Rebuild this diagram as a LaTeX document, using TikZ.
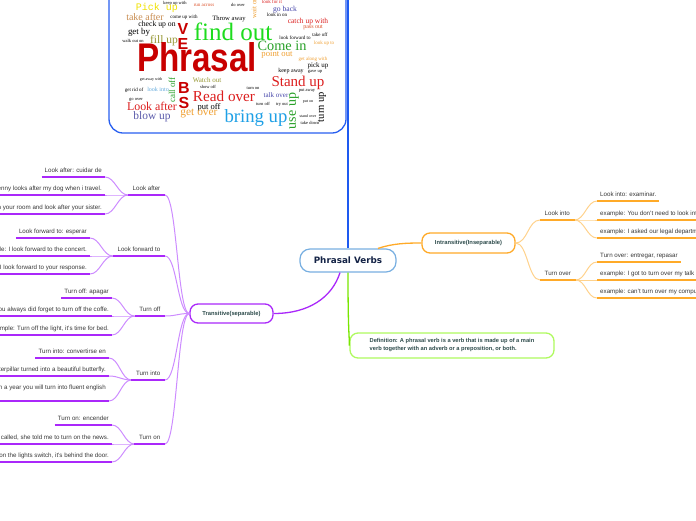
\documentclass[tikz,border=0pt]{standalone}
\usepackage{fontspec}
\setmainfont{Liberation Sans}
\newfontfamily\cloudserif{Liberation Serif}
\newfontfamily\cloudmono{Liberation Mono}
\newfontfamily\rootfont{DejaVu Sans}

\definecolor{transpurple}{RGB}{170,40,250}
\definecolor{translink}{RGB}{205,140,255}
\definecolor{introrange}{RGB}{255,170,40}
\definecolor{intrlink}{RGB}{255,210,140}
\definecolor{deflime}{RGB}{175,250,95}
\definecolor{deflink}{RGB}{120,230,0}
\definecolor{rootblue}{RGB}{120,175,225}
\definecolor{rootlink}{RGB}{30,90,240}
\definecolor{boxblue}{RGB}{40,95,240}
\definecolor{maintext}{RGB}{45,75,75}
\definecolor{leaftext}{RGB}{55,55,55}
\definecolor{roottext}{RGB}{20,35,70}
% word cloud colours
\definecolor{cwred}{RGB}{220,30,30}
\definecolor{cwdark}{RGB}{200,0,0}
\definecolor{cwgreen}{RGB}{40,160,40}
\definecolor{cwlime}{RGB}{30,220,30}
\definecolor{cworange}{RGB}{240,160,50}
\definecolor{cwrust}{RGB}{220,80,40}
\definecolor{cwolive}{RGB}{150,150,50}
\definecolor{cwtan}{RGB}{200,140,80}
\definecolor{cwnavy}{RGB}{70,70,170}
\definecolor{cwslate}{RGB}{90,90,170}
\definecolor{cwsky}{RGB}{100,170,220}
\definecolor{cwskytwo}{RGB}{30,160,230}
\definecolor{cwyellow}{RGB}{240,225,0}

\tikzset{
  rootbox/.style={draw=rootblue, line width=1.2pt, fill=white, rounded corners=10pt,
    minimum width=96pt, minimum height=23pt, inner sep=0pt, text=roottext,
    font=\rootfont\bfseries\fontsize{8.8}{10}\selectfont},
  branchbox/.style={draw=#1, line width=1.3pt, fill=white, rounded corners=8pt,
    inner sep=0pt, text=maintext, font=\bfseries\fontsize{5.8}{8}\selectfont},
  subleft/.style={anchor=south east, inner xsep=4.5pt, inner ysep=2.5pt, text depth=1.5pt,
    text=leaftext, font=\fontsize{6.2}{7}\selectfont},
  subright/.style={subleft, anchor=south west},
  leafleft/.style={anchor=south east, inner xsep=3pt, inner ysep=2.5pt, text depth=1.5pt,
    text=leaftext, font=\fontsize{6.2}{7}\selectfont},
  leafright/.style={leafleft, anchor=south west},
  linkp/.style={draw=translink, line width=1pt},
  linko/.style={draw=intrlink, line width=1pt},
  ulinep/.style={draw=transpurple, line width=2pt},
  ulineo/.style={draw=introrange, line width=2pt},
  cloudbox/.style={draw=boxblue, line width=1.3pt, fill=white, rounded corners=14pt,
    minimum width=237pt, minimum height=160pt},
  cloudword/.style={inner sep=0pt}
}

\begin{document}
\begin{tikzpicture}[x=1pt,y=-1pt]
    \useasboundingbox (0,0) rectangle (696,520);
    \clip (0,0) rectangle (696,520);

    % Word cloud picture
    \node[cloudbox] (cloud) at (227.5,53) {};
    \foreach \px/\py/\fs/\col/\wrd [count=\k] in {
        145/17/10/cwtan/take after, 184/17/5/black/come up with,
        175/3/4.5/black/keep up with, 204/5/5/cwrust/run across,
        157/25/7.7/black/check up on, 139/32/8.9/black/get by,
        164/41/11.5/cwolive/fill up, 133/41/4.5/black/walk out on,
        229/19/6.6/black/Throw away, 233/31.5/25/cwlime/find out,
        282/46/14.3/cwgreen/Come in, 277/55/8.7/cworange/point out,
        308/22/7.5/cwred/catch up with, 313/27/6/cwrust/pass out,
        285/10/7.6/cwnavy/go back, 272/2/5/cwred/look for it,
        238/5/4.5/black/do over, 277/15/5/black/look in on,
        295/38/5/black/look forward to, 320/35/5/black/take off,
        324/43/5/cworange/look up to, 313/59/5/cworange/get along with,
        318/66/7/black/pick up, 291/71/6/black/keep away,
        315/72/4.5/black/gave up, 298/83/15/cwred/Stand up,
        207/80/7/cwolive/Watch out, 208/87/4.5/black/show off,
        158/89/6/cwsky/look into, 134/90/5/black/get rid of,
        151/80/4/black/get away with, 224/96/15.2/cwred/Read over,
        253/88/4.5/black/turn on, 276/95/7/cwnavy/talk over,
        209/107/8.5/black/put off, 152/106/11.9/cwred/Look after,
        199/114/11.4/cworange/get over, 152/117/11.4/cwslate/blow up,
        256/118/18.7/cwskytwo/bring up, 307/91/4.5/black/put away,
        308/102/4/black/put on, 282/105/4.5/black/try out,
        310/123/4.5/black/take down, 263/104/4.5/black/turn off,
        308/116/4/black/stand over, 136/100/4.5/black/go over}
        \node[cloudword, text=\col, font=\cloudserif\fontsize{\fs}{\fs}\selectfont] (word\k) at (\px,\py) {\wrd};

    \node[cloudword, text=cwyellow, font=\cloudmono\fontsize{10}{10}\selectfont] (pickup) at (157,8) {Pick up};
    \node[cloudword, rotate=90, text=cwgreen, font=\cloudserif\fontsize{9}{9}\selectfont] (calloff) at (172,90) {call off};
    \node[cloudword, rotate=90, text=cwgreen, font=\cloudserif\fontsize{14}{14}\selectfont] (useup) at (294,111) {use up};
    \node[cloudword, rotate=90, font=\cloudserif\fontsize{10.5}{10.5}\selectfont] (turnup) at (322,107) {turn up};
    \node[cloudword, rotate=90, text=cworange, font=\cloudserif\fontsize{7}{7}\selectfont] (waiton) at (254,8) {wait on};

    % VERBS letters and Phrasal
    \node[cloudword, text=cwdark, font=\bfseries\fontsize{16}{16}\selectfont] (letV) at (183,29) {V};
    \node[cloudword, text=cwdark, font=\bfseries\fontsize{16}{16}\selectfont] (letE) at (183,43.5) {E};
    \node[cloudword, text=cwdark, font=\bfseries\fontsize{16}{16}\selectfont] (letB) at (184,88) {B};
    \node[cloudword, text=cwdark, font=\bfseries\fontsize{16}{16}\selectfont] (letS) at (184,103) {S};
    \node[cloudword, text=cwdark, font=\bfseries\fontsize{40}{40}\selectfont] (phrasal) at (197,57.5) {\scalebox{0.83}[1]{Phrasal}};

    % Central topic
    \node[rootbox] (root) at (348,260.5) {Phrasal Verbs};

    % Main branches
    \node[branchbox=transpurple, minimum width=83pt, minimum height=19pt] (trans) at (231.5,313.5) {Transitive(separable)};
    \node[branchbox=introrange, minimum width=93pt, minimum height=20pt] (intr) at (468.5,243) {Intransitive(Inseparable)};
    \node[branchbox=deflime, minimum width=204pt, minimum height=25pt, align=left,
        font=\bfseries\fontsize{5.7}{8}\selectfont] (def) at (452,345.5)
        {Definition: A phrasal verb is a verb that is made up of a main\\verb together with an adverb or a preposition, or both.};

    % Transitive sub-branches
    \node[subleft] (lafter) at (165,195) {Look after};
    \node[subleft] (lforw) at (165,256) {Look forward to};
    \node[subleft] (toff) at (165,316) {Turn off};
    \node[subleft] (tinto) at (165,380) {Turn into};
    \node[subleft] (ton) at (165,444) {Turn on};

    \node[leafleft] (lafter1) at (105,177) {Look after: cuidar de};
    \node[leafleft] (lafter2) at (105,195) {example: Jenny looks after my dog when i travel.};
    \node[leafleft] (lafter3) at (105,214) {example: Stay in your room and look after your sister.};
    \node[leafleft] (lforw1) at (90,238) {Look forward to: esperar};
    \node[leafleft] (lforw2) at (90,256) {example: I look forward to the concert.};
    \node[leafleft] (lforw3) at (90,274) {example: I look forward to your response.};
    \node[leafleft] (toff1) at (112,298) {Turn off: apagar};
    \node[leafleft] (toff2) at (112,316) {example: You always did forget to turn off the coffe.};
    \node[leafleft] (toff3) at (112,335) {example: Turn off the light, it's time for bed.};
    \node[leafleft] (tinto1) at (109,358) {Turn into: convertirse en};
    \node[leafleft] (tinto2) at (109,376) {example: The caterpillar turned into a beautiful butterfly.};
    \node[leafleft, text depth=8.5pt] (tinto3) at (109,401) {example: In a year you will turn into fluent english};
    \node[leafleft] (ton1) at (112,425) {Turn on: encender};
    \node[leafleft] (ton2) at (112,444) {example: When she called, she told me to turn on the news.};
    \node[leafleft] (ton3) at (112,462) {example: Turn on the lights switch, it's behind the door.};

    % Intransitive sub-branches
    \node[subright] (linto) at (540,220) {Look into};
    \node[subright] (tover) at (540,280) {Turn over};

    \node[leafright] (linto1) at (597,201) {Look into: examinar.};
    \node[leafright] (linto2) at (597,220) {example: You don't need to look into it.};
    \node[leafright] (linto3) at (597,238) {example: I asked our legal department to look into it.};
    \node[leafright] (tover1) at (597,262) {Turn over: entregar, repasar};
    \node[leafright] (tover2) at (597,280) {example: I got to turn over my talk};
    \node[leafright] (tover3) at (597,298) {example: can't turn over my computer.};

    % Links from the central topic
    \draw[draw=rootlink, line width=1.3pt] (root.north) -- (root.north |- cloud.north);
    \draw[draw=transpurple, line width=1.3pt] ([xshift=-8pt]root.south) .. controls +(-8,25) and +(35,0) .. (trans.east);
    \draw[draw=introrange, line width=1.3pt] ([xshift=30pt]root.north) .. controls +(15,-5) and +(-15,0) .. (intr.west);
    \draw[draw=deflink, line width=1.3pt] (root.south) .. controls +(0,60) and +(0,-12) .. (def.west);

    % Transitive links and underlines
    \foreach \s in {lafter,lforw,toff,tinto,ton} {
        \draw[linkp] (trans.west) .. controls +(-12,0) and +(12,0) .. (\s.south east);
        \foreach \k in {1,2,3}
            \draw[linkp] (\s.south west) .. controls +(-10,0) and +(10,0) .. (\s\k.south east);
    }
    \foreach \s in {lafter,lforw,toff,tinto,ton} {
        \draw[ulinep] (\s.south west) -- (\s.south east);
        \foreach \k in {1,2,3}
            \draw[ulinep] (\s\k.south west) -- (\s\k.south east);
    }

    % Intransitive links and underlines
    \foreach \s in {linto,tover} {
        \draw[linko] (intr.east) .. controls +(12,0) and +(-12,0) .. (\s.south west);
        \foreach \k in {1,2,3}
            \draw[linko] (\s.south east) .. controls +(10,0) and +(-10,0) .. (\s\k.south west);
    }
    \foreach \s in {linto,tover} {
        \draw[ulineo] (\s.south west) -- (\s.south east);
        \foreach \k in {1,2,3}
            \draw[ulineo] (\s\k.south west) -- (\s\k.south east);
    }
\end{tikzpicture}
\end{document}
